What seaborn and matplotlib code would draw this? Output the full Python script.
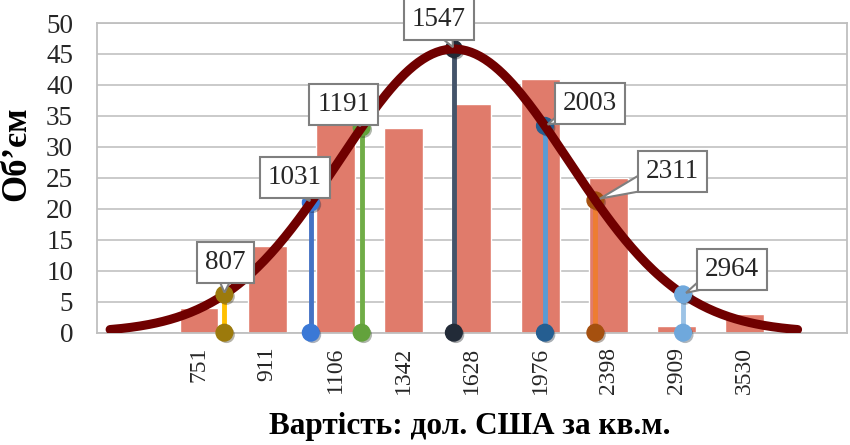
import numpy as np
import pandas as pd
import seaborn as sns
import matplotlib.pyplot as plt
import matplotlib.patheffects as pe
import matplotlib.transforms as mtransforms
from matplotlib.patches import Polygon

# price classes (USD per sq.m.) and number of offers in each
price_bins = [751, 911, 1106, 1342, 1628, 1976, 2398, 2909, 3530]
volumes = [4, 14, 34, 33, 37, 41, 25, 1, 3]

# fitted lognormal curve and the marked prices
fit_median = 1547
fit_sigma_log = 0.325
fit_peak = 45.8
marks = [807, 1031, 1191, 1547, 2003, 2311, 2964]

# styling
bar_color = '#E07B6B'
curve_color = '#700000'
mark_colors = ['#FFC000', '#4472C4', '#70AD47', '#44546A', '#5B9BD5', '#ED7D31', '#9DC3E6']
dot_colors = ['#9C7A0C', '#3A78D6', '#63A23C', '#222B38', '#255E91', '#A5500F', '#6FA8DC']
dot_on_top = [True, False, False, False, False, False, True]
label_offsets = [(1, 32), (-16, 25), (-18, 23), (-15, 30), (45, 22), (77, 29), (49, 25)]


def curve(x):
    return fit_peak * np.exp(-0.5 * (np.log(np.asarray(x) / fit_median) / fit_sigma_log) ** 2)


sns.set_theme(style='whitegrid')
plt.rcParams['font.family'] = ['Liberation Serif', 'DejaVu Serif']

fig, ax = plt.subplots(figsize=(8.5, 4.45), dpi=100)
fig.subplots_adjust(left=0.1138, right=0.9965, bottom=0.2524, top=0.9483)

df = pd.DataFrame({'price': price_bins, 'volume': volumes})
sns.barplot(data=df, x='price', y='volume', native_scale=True, log_scale=(True, False),
            width=0.57, color=bar_color, saturation=1, ax=ax, zorder=1)

step = (price_bins[-1] / price_bins[0]) ** (1 / (len(price_bins) - 1))
ax.set_xlim(price_bins[0] / step ** 1.5, price_bins[-1] * step ** 1.5)
ax.set_ylim(0, 50)

# normal curve in log-price space, +-3 sigma
xs = np.geomspace(fit_median * np.exp(-3 * fit_sigma_log), fit_median * np.exp(3 * fit_sigma_log), 300)
sns.lineplot(x=xs, y=curve(xs), color=curve_color, lw=6.5, solid_capstyle='round', ax=ax, zorder=3)

shadow = [pe.SimplePatchShadow(offset=(1.5, -1.5), alpha=0.35), pe.Normal()]
for m, lc, dc, top_flag, off in zip(marks, mark_colors, dot_colors, dot_on_top, label_offsets):
    top = float(curve(m))
    ax.plot([m, m], [0, top], color=lc, lw=3.5, solid_capstyle='butt', zorder=2)
    ax.plot([m], [0], 'o', ms=12, mfc=dc, mec=dc, zorder=4, clip_on=False, path_effects=shadow)
    ax.plot([m], [top], 'o', ms=12, mfc=dc, mec=dc, zorder=4 if top_flag else 2.5,
            path_effects=shadow)

    # callout tail: triangle from the box centre to the marker, in pixels
    dx, dy = off
    n = np.hypot(dx, dy)
    px, py = -dy / n * 14, dx / n * 14
    tail = Polygon([(dx * 0.06, dy * 0.06), (dx + px, dy + py), (dx - px, dy - py)],
                   closed=True, fc='white', ec='#7F7F7F', lw=1.5, zorder=5.5,
                   transform=mtransforms.ScaledTranslation(m, top, ax.transData), clip_on=False)
    ax.add_artist(tail)
    ax.annotate(str(m), xy=(m, top), xytext=off, textcoords='offset pixels',
                ha='center', va='center', fontsize=19.5, zorder=6,
                bbox=dict(boxstyle='square,pad=0.3', fc='white', ec='#7F7F7F', lw=1.5))

ax.set_xticks(price_bins)
ax.set_xticklabels([str(p) for p in price_bins], rotation=90, fontsize=17)
ax.xaxis.set_minor_locator(plt.NullLocator())
ax.set_yticks(range(0, 51, 5))
ax.tick_params(axis='y', labelsize=19.5, length=0, pad=17)
ax.tick_params(axis='x', length=0, pad=10)
ax.grid(axis='x', visible=False)
ax.grid(axis='y', color='#C6C6C6', lw=1.3)
for s in ax.spines.values():
    s.set_color('#BFBFBF')
    s.set_linewidth(1.3)

ax.set_xlabel('Вартість: дол. США за кв.м.', fontsize=22.5, fontweight='bold', color='black')
ax.set_ylabel('Об’єм', fontsize=25, fontweight='bold', color='black')
ax.xaxis.set_label_coords(0.4975, -0.255)
ax.yaxis.set_label_coords(-0.085, 0.577)

fig.savefig('out.png', dpi=100)
